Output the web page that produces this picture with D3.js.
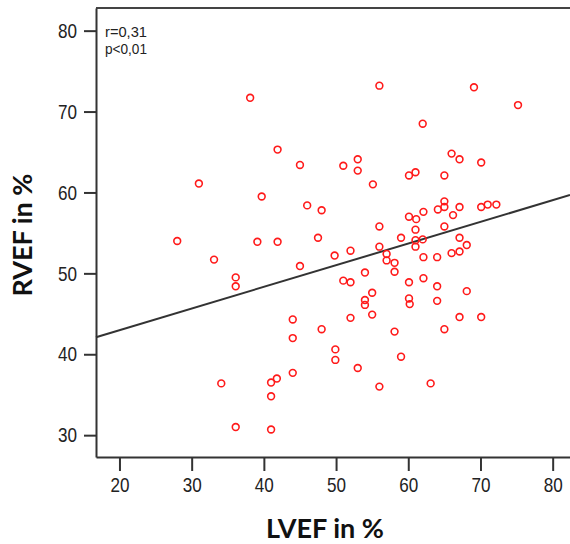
<!DOCTYPE html>
<html>
<head>
<meta charset="utf-8">
<script src="https://cdn.jsdelivr.net/npm/d3@7"></script>
<style>
  html, body { margin: 0; padding: 0; background: #fff; }
  svg { display: block; }
  .tick text { font-family: "Liberation Sans", Arial, sans-serif; fill: #222; }
</style>
</head>
<body>
<svg id="chart" width="570" height="544"></svg>
<script>
// LVEF (%) values of each patient
const lvef = [
  38.1, 41.9, 45.0, 31.0, 39.7, 46.0, 48.0, 28.0, 39.1, 41.9,
  47.5, 33.1, 49.8, 51.0, 53.0, 53.0, 55.1, 56.0, 69.1, 75.2,
  62.0, 66.0, 67.1, 70.1, 60.1, 61.0, 65.0, 65.0, 65.0, 64.1,
  67.1, 70.1, 71.0, 72.2, 66.2, 60.1, 62.1, 61.1, 61.0, 56.0,
  65.0, 59.0, 61.0, 62.0, 67.1, 68.1, 56.0, 61.0, 52.0, 57.0,
  57.0, 58.1, 58.1, 62.1, 64.0, 66.0, 67.1, 54.0, 51.0, 52.0,
  60.1, 62.1, 64.0, 68.1, 55.0, 54.0, 54.0, 60.1, 60.2, 64.0,
  52.0, 55.0, 67.1, 70.1, 58.1, 65.0, 49.9, 49.9, 59.0, 53.0,
  56.0, 63.1, 36.1, 36.1, 45.0, 44.0, 48.0, 44.0, 44.0, 34.1,
  41.0, 41.8, 41.0, 36.1, 41.0
];
// RVEF (%) values of each patient
const rvef = [
  71.7, 65.3, 63.4, 61.1, 59.5, 58.4, 57.8, 54.0, 53.9, 53.9,
  54.4, 51.7, 52.2, 63.3, 64.1, 62.7, 61.0, 73.2, 73.0, 70.8,
  68.5, 64.8, 64.1, 63.7, 62.1, 62.5, 62.1, 58.9, 58.2, 57.9,
  58.2, 58.2, 58.5, 58.5, 57.2, 57.0, 57.6, 56.7, 55.4, 55.8,
  55.8, 54.4, 54.1, 54.2, 54.4, 53.5, 53.3, 53.3, 52.8, 52.4,
  51.6, 51.3, 50.2, 52.0, 52.0, 52.5, 52.7, 50.1, 49.1, 48.9,
  48.9, 49.4, 48.4, 47.8, 47.6, 46.7, 46.1, 46.9, 46.2, 46.6,
  44.5, 44.9, 44.6, 44.6, 42.8, 43.1, 40.6, 39.3, 39.7, 38.3,
  36.0, 36.4, 49.5, 48.4, 50.9, 44.3, 43.1, 42.0, 37.7, 36.4,
  36.5, 37.0, 34.8, 31.0, 30.7
];
const xTicks = [20, 30, 40, 50, 60, 70, 80];
const yTicks = [30, 40, 50, 60, 70, 80];
const xDomain = [16.75, 82.4];
const yDomain = [27.3, 82.8];
// linear regression RVEF = intercept + slope * LVEF
const regIntercept = 37.63;
const regSlope = 0.2676;
const statLines = ["r=0,31", "p<0,01"];
const xTitle = "LVEF in %";
const yTitle = "RVEF in %";

const svg = d3.select("#chart");
const pLeft = 96, pRight = 570, pTop = 8, pBottom = 457;

const x = d3.scaleLinear().domain(xDomain).range([pLeft, pRight]);
const y = d3.scaleLinear().domain(yDomain).range([pBottom, pTop]);

// top frame line
svg.append("line")
  .attr("x1", pLeft).attr("x2", pRight)
  .attr("y1", pTop).attr("y2", pTop)
  .attr("stroke", "#444").attr("stroke-width", 2);

const xAxis = svg.append("g")
  .attr("transform", `translate(0,${pBottom})`)
  .call(d3.axisBottom(x).tickValues(xTicks).tickSize(14).tickPadding(6).tickSizeOuter(0));
const yAxis = svg.append("g")
  .attr("transform", `translate(${pLeft},0)`)
  .call(d3.axisLeft(y).tickValues(yTicks).tickSize(12).tickPadding(7).tickSizeOuter(0));

[xAxis, yAxis].forEach(g => {
  g.select(".domain").attr("stroke", "#333").attr("stroke-width", 2);
  g.selectAll(".tick line").attr("stroke", "#333").attr("stroke-width", 2);
  g.selectAll(".tick text")
    .attr("font-size", 21)
    .attr("fill", "#222")
    .attr("textLength", 19)
    .attr("lengthAdjust", "spacingAndGlyphs");
});

// regression line
svg.append("line")
  .attr("x1", x(xDomain[0])).attr("y1", y(regIntercept + regSlope * xDomain[0]))
  .attr("x2", x(xDomain[1])).attr("y2", y(regIntercept + regSlope * xDomain[1]))
  .attr("stroke", "#333").attr("stroke-width", 2);

// points
svg.append("g").selectAll("circle")
  .data(lvef.map((v, i) => [v, rvef[i]]))
  .join("circle")
  .attr("cx", d => x(d[0]))
  .attr("cy", d => y(d[1]))
  .attr("r", 3.4)
  .attr("fill", "none")
  .attr("stroke", "#ff1a1a")
  .attr("stroke-width", 1.6);

// stats
svg.append("g").selectAll("text")
  .data(statLines)
  .join("text")
  .attr("x", 105)
  .attr("y", (d, i) => 37 + i * 17)
  .attr("font-family", '"Liberation Sans", Arial, sans-serif')
  .attr("font-size", 15)
  .attr("fill", "#222")
  .attr("textLength", 42)
  .attr("lengthAdjust", "spacingAndGlyphs")
  .text(d => d);

// axis titles
svg.append("text")
  .attr("x", 325).attr("y", 538)
  .attr("text-anchor", "middle")
  .attr("font-family", "Lato, 'Open Sans', sans-serif")
  .attr("font-weight", "bold")
  .attr("font-size", 27)
  .attr("fill", "#111")
  .text(xTitle);

svg.append("text")
  .attr("transform", "translate(32,235) rotate(-90)")
  .attr("text-anchor", "middle")
  .attr("font-family", "Lato, 'Open Sans', sans-serif")
  .attr("font-weight", "bold")
  .attr("font-size", 27)
  .attr("fill", "#111")
  .text(yTitle);
</script>
</body>
</html>
